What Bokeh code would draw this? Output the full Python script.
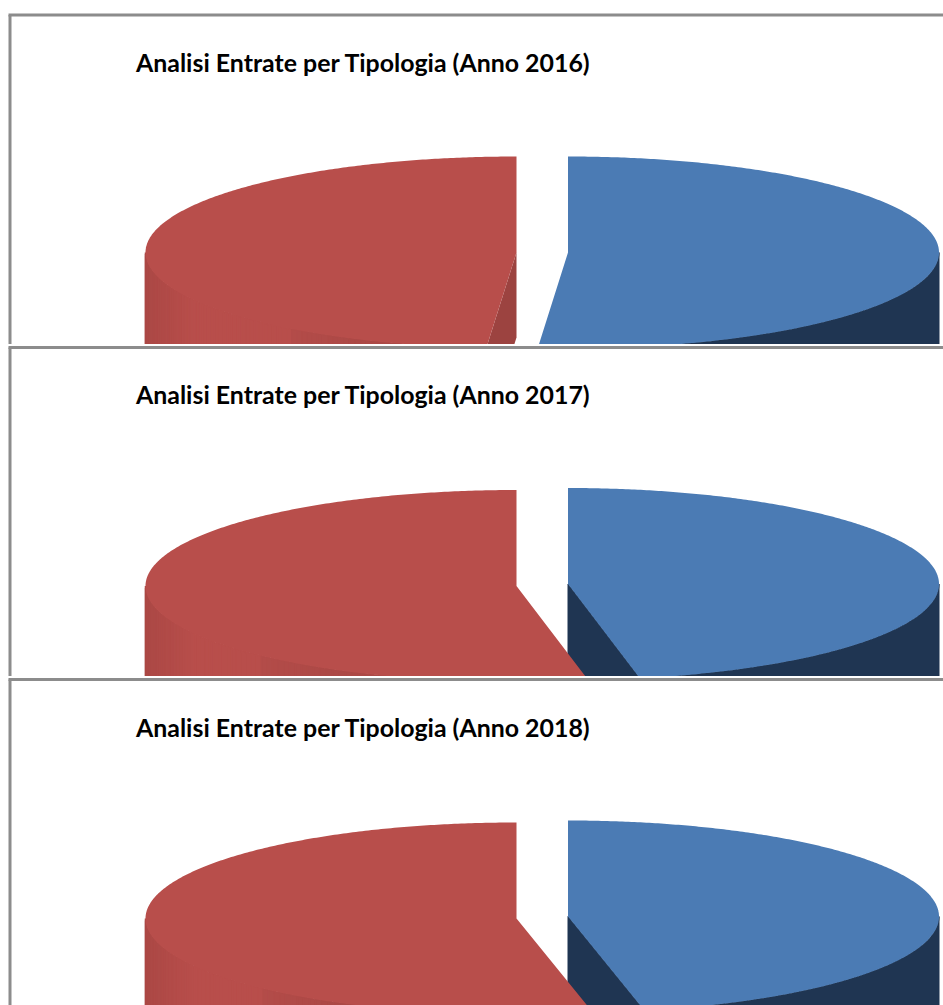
import numpy as np
from bokeh.plotting import figure
from bokeh.layouts import column
from bokeh.embed import file_html
from bokeh.resources import INLINE
from bokeh.models import ColumnDataSource
from bokeh.core.properties import value

# ---- data (percent of the total) ----
years = [2016, 2017, 2018]
share_blue = [51.3, 46.9, 46.7]
share_red = [48.7, 53.1, 53.3]

TITLE = "Analisi Entrate per Tipologia (Anno {})"
BLUE, BLUE_DARK = "#4B7BB4", "#1F3552"
RED, RED_FACE = "#B84E4B", "#9C4340"
GREY = "#8C8C8C"

RX, RY = 371.0, 96.0
WALL, FACE = 92.0, 85.0
BLUE_X, RED_X = 567.5, 516.0

# per panel layout, in picture pixels
panels = [
    dict(bottom=344, line=14.5, title=61, cy_blue=252, cy_red=252, shade=290),
    dict(bottom=676, line=347, title=393, cy_blue=583.5, cy_red=585.5, shade=263),
    dict(bottom=1005, line=679, title=726, cy_blue=916, cy_red=918, shade=263),
]


def rim(cx, cy, t0, t1, n=180):
    t = np.radians(np.linspace(t0, t1, n))
    return cx + RX * np.sin(t), cy - RY * np.cos(t)


def top_surface(cx, cy, t0, t1):
    x, y = rim(cx, cy, t0, t1, 360)
    return [cx, *x], [cy, *y]


def wall(cx, cy, t0, t1, n=60):
    x, y = rim(cx, cy, t0, t1, n)
    return [*x, *x[::-1]], [*y, *(y[::-1] + WALL)]


def face(cx, cy, t):
    x, y = rim(cx, cy, t, t, 1)
    return [cx, x[0], x[0], cx], [cy, y[0], y[0] + FACE, cy + FACE]


def mix(c0, c1, u):
    a = [int(c0[i:i + 2], 16) for i in (1, 3, 5)]
    b = [int(c1[i:i + 2], 16) for i in (1, 3, 5)]
    return "#%02X%02X%02X" % tuple(int(round(p + (q - p) * u)) for p, q in zip(a, b))


def red_wall_strips(cx, cy, edge, shade_x):
    xs, ys, cols = [], [], []
    steps = np.linspace(270, edge, 90)
    left = cx - RX
    for t0, t1 in zip(steps[:-1], steps[1:]):
        x, y = wall(cx, cy, t1, t0, 4)
        xm = cx + RX * np.sin(np.radians((t0 + t1) / 2))
        if xm < 195:
            col = mix("#AB4845", RED, (xm - left) / (195 - left))
        elif xm < shade_x:
            col = RED
        else:
            col = mix("#B34C49", "#AC4946", min(1.0, (xm - shade_x) / 70))
        xs.append(x)
        ys.append(y)
        cols.append(col)
    return xs, ys, cols


def make_panel(year, blue, red, pn, top0):
    p = figure(width=943, height=pn["bottom"] - top0,
               x_range=(0, 943), y_range=(pn["bottom"], top0),
               x_axis_type=None, y_axis_type=None,
               toolbar_location=None, output_backend="svg",
               min_border=0, outline_line_color=None,
               background_fill_color="white", border_fill_color="white")
    p.grid.visible = False

    edge = 360.0 * blue / (blue + red)
    cb, cr = pn["cy_blue"], pn["cy_red"]

    # blue slice: wall, cut face, top
    x, y = wall(BLUE_X, cb, 90, edge)
    p.patch(x, y, fill_color=BLUE_DARK, line_color=BLUE_DARK)
    if edge < 180:
        x, y = face(BLUE_X, cb, edge)
        p.patch(x, y, fill_color=BLUE_DARK, line_color=BLUE_DARK)
    x, y = top_surface(BLUE_X, cb, 0, edge)
    p.patch(x, y, fill_color=BLUE, line_color=None)

    # red slice: shaded wall, cut face, top
    xs, ys, cols = red_wall_strips(RED_X, cr, edge, pn["shade"])
    src = ColumnDataSource(dict(xs=xs, ys=ys, c=cols))
    p.patches("xs", "ys", fill_color="c", line_color="c", line_width=1.5, source=src)
    if edge > 180:
        x, y = face(RED_X, cr, edge)
        p.patch(x, y, fill_color=RED_FACE, line_color=None)
    x, y = top_surface(RED_X, cr, edge, 360)
    p.patch(x, y, fill_color=RED, line_color=None)

    # chart frame: top and left edges
    p.line([9.5, 9.5], [pn["line"], pn["bottom"]], line_color=GREY, line_width=3)
    p.line([8, 943], [pn["line"], pn["line"]], line_color=GREY, line_width=3)

    p.text([135.5], [pn["title"]], text=[TITLE.format(year)],
           text_font=value("Lato"), text_font_style="bold",
           text_font_size="24.9px", text_color="#000000",
           text_align="left", text_baseline="middle")
    return p


tops = [0, 345, 677]
figs = [make_panel(y, b, r, pn, t) for y, b, r, pn, t in zip(years, share_blue, share_red, panels, tops)]
page = column(*figs, spacing=1)
open("out.html", "w").write(file_html(page, INLINE))
